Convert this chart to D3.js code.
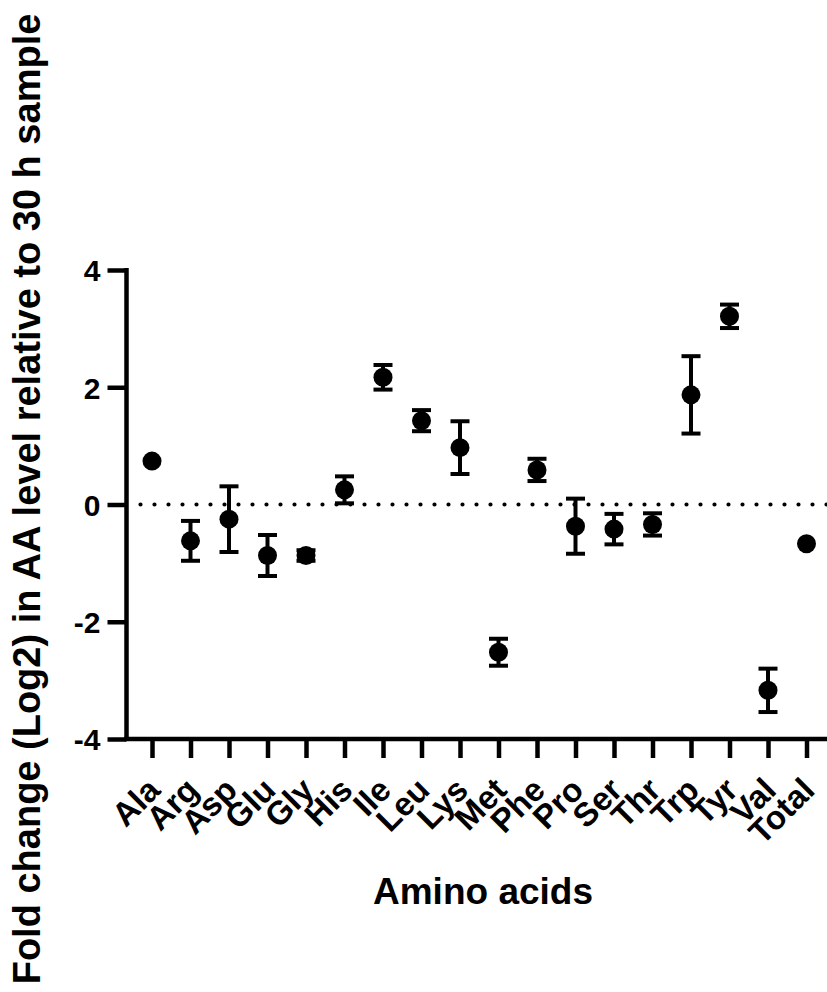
<!DOCTYPE html>
<html>
<head>
<meta charset="utf-8">
<script src="https://cdn.jsdelivr.net/npm/d3@7"></script>
<style>
  html, body { margin: 0; padding: 0; background: #fff; }
  svg { display: block; }
  text { font-family: Arial, "Liberation Sans", sans-serif; font-weight: bold; fill: #000; }
</style>
</head>
<body>
<svg id="chart" width="827" height="992"></svg>
<script>
const categories = ["Ala","Arg","Asp","Glu","Gly","His","Ile","Leu","Lys","Met","Phe","Pro","Ser","Thr","Trp","Tyr","Val","Total"];
const means =      [0.74,-0.62,-0.25,-0.87,-0.87,0.25,2.17,1.43,0.97,-2.52,0.59,-0.37,-0.42,-0.34,1.87,3.21,-3.17,-0.67];
const errors =     [0.00,0.34,0.56,0.35,0.09,0.23,0.21,0.18,0.45,0.23,0.19,0.47,0.26,0.19,0.66,0.20,0.37,0.00];
const yTicks = [-4,-2,0,2,4];
const xTitle = "Amino acids";
const yTitle = "Fold change (Log2) in AA level relative to 30 h sample";

const svg = d3.select("#chart");
const x = d3.scalePoint().domain(categories).range([152, 806.5]);
const y = d3.scaleLinear().domain([-4, 4]).range([739, 270]);

// zero reference dotted line
svg.append("line")
  .attr("x1", 140.5).attr("x2", 827)
  .attr("y1", y(0)).attr("y2", y(0))
  .attr("stroke", "#000").attr("stroke-width", 4.2)
  .attr("stroke-linecap", "round").attr("stroke-dasharray", "0,14");

// Y axis
const yAxis = d3.axisLeft(y).tickValues(yTicks).tickSize(19).tickPadding(7).tickFormat(d => String(d));
const gy = svg.append("g").attr("transform", "translate(126.5,0)").call(yAxis);
gy.select(".domain").remove();
gy.selectAll(".tick line").attr("stroke", "#000").attr("stroke-width", 4.5);
gy.selectAll(".tick text").attr("font-size", 30).attr("dy", "0.36em")
  .style("font-family", "Arial, 'Liberation Sans', sans-serif").style("font-weight", "bold");
svg.append("line").attr("x1", 126.5).attr("x2", 126.5).attr("y1", 268).attr("y2", 741)
  .attr("stroke", "#000").attr("stroke-width", 4.5);

// X axis
const xAxis = d3.axisBottom(x).tickSize(19).tickFormat("");
const gx = svg.append("g").attr("transform", "translate(0,739)").call(xAxis);
gx.select(".domain").remove();
gx.selectAll(".tick line").attr("stroke", "#000").attr("stroke-width", 4.5);
svg.append("line").attr("x1", 124.3).attr("x2", 827).attr("y1", 739).attr("y2", 739)
  .attr("stroke", "#000").attr("stroke-width", 4.5);

// rotated category labels
svg.append("g").selectAll("text").data(categories).join("text")
  .attr("transform", d => `translate(${x(d) + 10},792) rotate(-45)`)
  .attr("text-anchor", "end")
  .attr("font-size", 33)
  .text(d => d);

// error bars
const eb = svg.append("g").selectAll("g").data(categories.map((c, i) => ({c, m: means[i], e: errors[i]})).filter(d => d.e > 0)).join("g");
eb.append("line").attr("x1", d => x(d.c)).attr("x2", d => x(d.c))
  .attr("y1", d => y(d.m + d.e)).attr("y2", d => y(d.m - d.e))
  .attr("stroke", "#000").attr("stroke-width", 4);
eb.append("line").attr("x1", d => x(d.c) - 9.5).attr("x2", d => x(d.c) + 9.5)
  .attr("y1", d => y(d.m + d.e)).attr("y2", d => y(d.m + d.e))
  .attr("stroke", "#000").attr("stroke-width", 4);
eb.append("line").attr("x1", d => x(d.c) - 9.5).attr("x2", d => x(d.c) + 9.5)
  .attr("y1", d => y(d.m - d.e)).attr("y2", d => y(d.m - d.e))
  .attr("stroke", "#000").attr("stroke-width", 4);

// points
svg.append("g").selectAll("circle").data(categories).join("circle")
  .attr("cx", d => x(d)).attr("cy", (d, i) => y(means[i]))
  .attr("r", 9.5).attr("fill", "#000");

// axis titles
svg.append("text").attr("x", 483).attr("y", 904).attr("text-anchor", "middle")
  .attr("font-size", 37).text(xTitle);
svg.append("text").attr("transform", "translate(40,499) rotate(-90)").attr("text-anchor", "middle")
  .attr("font-size", 38).text(yTitle);
</script>
</body>
</html>
